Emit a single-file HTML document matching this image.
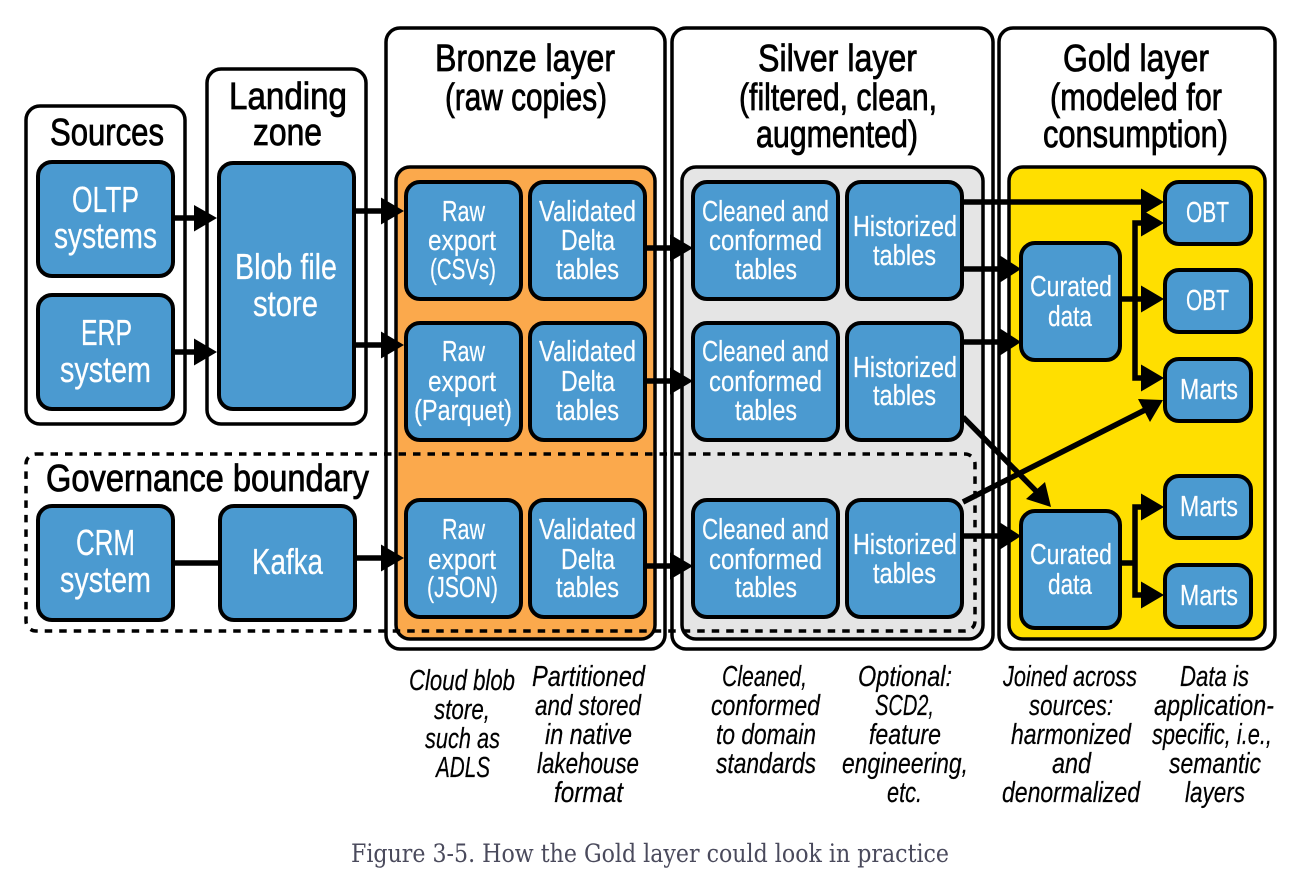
<!DOCTYPE html>
<html><head><meta charset="utf-8"><style>
html,body{margin:0;padding:0;background:#fff;width:1298px;height:886px;overflow:hidden}
svg{display:block}
text{font-family:"Liberation Sans",sans-serif}
.o{fill:#fff;stroke:#000;stroke-width:3.5}
.b{fill:#4b9ad0;stroke:#000;stroke-width:4}
.i{stroke:#000;stroke-width:3.5}
.h{font-size:38px;fill:#000;stroke:#000;stroke-width:.8}
.m{font-size:36px;fill:#fff;stroke:#fff;stroke-width:.25}
.s{font-size:29px;fill:#fff;stroke:#fff;stroke-width:.2}
.n{font-size:29px;fill:#000;font-style:italic;stroke:#000;stroke-width:.2}
.l{stroke:#000;stroke-width:5.5;fill:none}
</style></head><body>
<svg width="1298" height="886" viewBox="0 0 1298 886" xmlns="http://www.w3.org/2000/svg">
<rect class="o" x="26" y="106" width="159" height="318" rx="14"/>
<rect class="o" x="207" y="69" width="159" height="355" rx="14"/>
<rect class="o" x="386" y="28" width="279" height="621" rx="14"/>
<rect class="o" x="672" y="28" width="321" height="621" rx="14"/>
<rect class="o" x="999" y="28" width="276" height="621" rx="14"/>
<rect class="i" fill="#fba94c" x="396" y="167" width="259" height="472" rx="14"/>
<rect class="i" fill="#e5e5e5" x="682" y="167" width="301" height="472" rx="14"/>
<rect class="i" fill="#ffdf00" x="1009" y="167" width="256" height="472" rx="14"/>
<rect x="26" y="454" width="949" height="177" rx="10" fill="none" stroke="#000" stroke-width="3.5" stroke-dasharray="7.5 7"/>

<path class="l" d="M173 218H198M173 352H198M354 211H383M354 345H383M355 558H383M173 563H220M645 248H672M645 381H672M645 566H672M962 202H1143M962 269H1002M962 342H1002M962 536H1002M1120 299H1143M1143 223H1135V378H1143M1120 563H1135M1143 507H1135V595H1143M963 417L1036 491M963 502L1145 410"/>
<g fill="#000">
<path d="M194 205L217 218L194 231.5ZM194 338.500L217 352L194 365.500ZM381 197.500L404 211L381 224.500ZM381 331.500L404 345L381 358.500ZM381 544.500L404 558L381 571.500ZM670 234.500L693 248L670 261.500ZM670 367.500L693 381L670 394.500ZM670 552.500L693 566L670 579.500Z"/>
<path d="M1141 188.500L1164 202L1141 215.500ZM1141 209.500L1164 223L1141 236.500ZM1141 285.500L1164 299L1141 312.500ZM1141 364.500L1164 378L1141 391.500ZM1141 493.500L1164 507L1141 520.500ZM1141 581.500L1164 595L1141 608.500Z"/>
<path d="M1000 255.500L1021 269L1000 282.500ZM1000 328.500L1021 342L1000 355.500ZM1000 522.500L1021 536L1000 549.500Z"/>
<path d="M1051 507L1045 482L1026 499ZM1163 400L1138 399L1150 422Z"/>
</g>

<rect class="b" x="38" y="162" width="135" height="114" rx="14"/>
<rect class="b" x="38" y="295" width="135" height="114" rx="14"/>
<rect class="b" x="219" y="163" width="135" height="246" rx="14"/>
<rect class="b" x="38" y="506" width="135" height="114" rx="14"/>
<rect class="b" x="220" y="506" width="135" height="114" rx="14"/>
<rect class="b" x="406" y="182" width="115" height="117" rx="14"/>
<rect class="b" x="530" y="182" width="115" height="117" rx="14"/>
<rect class="b" x="406" y="323" width="115" height="117" rx="14"/>
<rect class="b" x="530" y="323" width="115" height="117" rx="14"/>
<rect class="b" x="406" y="500" width="115" height="117" rx="14"/>
<rect class="b" x="530" y="500" width="115" height="117" rx="14"/>
<rect class="b" x="693" y="182" width="145" height="117" rx="14"/>
<rect class="b" x="847" y="182" width="115" height="117" rx="14"/>
<rect class="b" x="693" y="323" width="145" height="117" rx="14"/>
<rect class="b" x="847" y="323" width="115" height="117" rx="14"/>
<rect class="b" x="693" y="500" width="145" height="117" rx="14"/>
<rect class="b" x="847" y="500" width="115" height="117" rx="14"/>
<rect class="b" x="1021" y="243" width="99" height="117" rx="14"/>
<rect class="b" x="1021" y="511" width="99" height="117" rx="14"/>
<rect class="b" x="1165" y="182" width="86" height="62" rx="14"/>
<rect class="b" x="1165" y="270" width="86" height="62" rx="14"/>
<rect class="b" x="1165" y="359" width="86" height="62" rx="14"/>
<rect class="b" x="1165" y="476" width="86" height="62" rx="14"/>
<rect class="b" x="1165" y="565" width="86" height="62" rx="14"/>

<text class="h" x="50" y="145" textLength="114" lengthAdjust="spacingAndGlyphs">Sources</text>
<text class="h" x="229" y="109" textLength="118" lengthAdjust="spacingAndGlyphs">Landing</text>
<text class="h" x="253" y="145" textLength="69" lengthAdjust="spacingAndGlyphs">zone</text>
<text class="h" x="435" y="71" textLength="180" lengthAdjust="spacingAndGlyphs">Bronze layer</text>
<text class="h" x="445" y="110" textLength="162" lengthAdjust="spacingAndGlyphs">(raw copies)</text>
<text class="h" x="758" y="71" textLength="159" lengthAdjust="spacingAndGlyphs">Silver layer</text>
<text class="h" x="739" y="110" textLength="198" lengthAdjust="spacingAndGlyphs">(filtered, clean,</text>
<text class="h" x="756" y="147" textLength="162" lengthAdjust="spacingAndGlyphs">augmented)</text>
<text class="h" x="1063" y="71" textLength="146" lengthAdjust="spacingAndGlyphs">Gold layer</text>
<text class="h" x="1050" y="110" textLength="172" lengthAdjust="spacingAndGlyphs">(modeled for</text>
<text class="h" x="1043" y="147" textLength="185" lengthAdjust="spacingAndGlyphs">consumption)</text>
<text class="h" x="46" y="491" textLength="323" lengthAdjust="spacingAndGlyphs">Governance boundary</text>

<text class="m" x="72" y="212" textLength="67" lengthAdjust="spacingAndGlyphs">OLTP</text>
<text class="m" x="54" y="248" textLength="103" lengthAdjust="spacingAndGlyphs">systems</text>
<text class="m" x="81" y="345" textLength="51" lengthAdjust="spacingAndGlyphs">ERP</text>
<text class="m" x="60" y="382" textLength="91" lengthAdjust="spacingAndGlyphs">system</text>
<text class="m" x="235" y="279" textLength="102" lengthAdjust="spacingAndGlyphs">Blob file</text>
<text class="m" x="253" y="316" textLength="65" lengthAdjust="spacingAndGlyphs">store</text>
<text class="m" x="76" y="555" textLength="59" lengthAdjust="spacingAndGlyphs">CRM</text>
<text class="m" x="60" y="592" textLength="91" lengthAdjust="spacingAndGlyphs">system</text>
<text class="m" x="252" y="574" textLength="71" lengthAdjust="spacingAndGlyphs">Kafka</text>

<text class="s" x="442" y="221" textLength="43" lengthAdjust="spacingAndGlyphs">Raw</text>
<text class="s" x="428" y="250" textLength="68" lengthAdjust="spacingAndGlyphs">export</text>
<text class="s" x="430" y="279" textLength="66" lengthAdjust="spacingAndGlyphs">(CSVs)</text>
<text class="s" x="442" y="361" textLength="43" lengthAdjust="spacingAndGlyphs">Raw</text>
<text class="s" x="428" y="391" textLength="68" lengthAdjust="spacingAndGlyphs">export</text>
<text class="s" x="414" y="420" textLength="98" lengthAdjust="spacingAndGlyphs">(Parquet)</text>
<text class="s" x="442" y="539" textLength="43" lengthAdjust="spacingAndGlyphs">Raw</text>
<text class="s" x="428" y="569" textLength="68" lengthAdjust="spacingAndGlyphs">export</text>
<text class="s" x="427" y="597" textLength="71" lengthAdjust="spacingAndGlyphs">(JSON)</text>

<text class="s" x="539" y="221" textLength="97" lengthAdjust="spacingAndGlyphs">Validated</text>
<text class="s" x="561" y="250" textLength="54" lengthAdjust="spacingAndGlyphs">Delta</text>
<text class="s" x="556" y="279" textLength="63" lengthAdjust="spacingAndGlyphs">tables</text>
<text class="s" x="539" y="361" textLength="97" lengthAdjust="spacingAndGlyphs">Validated</text>
<text class="s" x="561" y="391" textLength="54" lengthAdjust="spacingAndGlyphs">Delta</text>
<text class="s" x="556" y="420" textLength="63" lengthAdjust="spacingAndGlyphs">tables</text>
<text class="s" x="539" y="539" textLength="97" lengthAdjust="spacingAndGlyphs">Validated</text>
<text class="s" x="561" y="569" textLength="54" lengthAdjust="spacingAndGlyphs">Delta</text>
<text class="s" x="556" y="597" textLength="63" lengthAdjust="spacingAndGlyphs">tables</text>

<text class="s" x="702" y="221" textLength="127" lengthAdjust="spacingAndGlyphs">Cleaned and</text>
<text class="s" x="709" y="250" textLength="113" lengthAdjust="spacingAndGlyphs">conformed</text>
<text class="s" x="735" y="279" textLength="62" lengthAdjust="spacingAndGlyphs">tables</text>
<text class="s" x="702" y="361" textLength="127" lengthAdjust="spacingAndGlyphs">Cleaned and</text>
<text class="s" x="709" y="391" textLength="113" lengthAdjust="spacingAndGlyphs">conformed</text>
<text class="s" x="735" y="420" textLength="62" lengthAdjust="spacingAndGlyphs">tables</text>
<text class="s" x="702" y="539" textLength="127" lengthAdjust="spacingAndGlyphs">Cleaned and</text>
<text class="s" x="709" y="569" textLength="113" lengthAdjust="spacingAndGlyphs">conformed</text>
<text class="s" x="735" y="597" textLength="62" lengthAdjust="spacingAndGlyphs">tables</text>

<text class="s" x="853" y="236" textLength="104" lengthAdjust="spacingAndGlyphs">Historized</text>
<text class="s" x="873" y="265" textLength="63" lengthAdjust="spacingAndGlyphs">tables</text>
<text class="s" x="853" y="377" textLength="104" lengthAdjust="spacingAndGlyphs">Historized</text>
<text class="s" x="873" y="405" textLength="63" lengthAdjust="spacingAndGlyphs">tables</text>
<text class="s" x="853" y="554" textLength="104" lengthAdjust="spacingAndGlyphs">Historized</text>
<text class="s" x="873" y="583" textLength="63" lengthAdjust="spacingAndGlyphs">tables</text>

<text class="s" x="1030" y="296" textLength="82" lengthAdjust="spacingAndGlyphs">Curated</text>
<text class="s" x="1048" y="326" textLength="44" lengthAdjust="spacingAndGlyphs">data</text>
<text class="s" x="1030" y="564" textLength="82" lengthAdjust="spacingAndGlyphs">Curated</text>
<text class="s" x="1048" y="594" textLength="44" lengthAdjust="spacingAndGlyphs">data</text>

<text class="s" x="1186" y="222" textLength="43" lengthAdjust="spacingAndGlyphs">OBT</text>
<text class="s" x="1186" y="310" textLength="43" lengthAdjust="spacingAndGlyphs">OBT</text>
<text class="s" x="1180" y="399" textLength="58" lengthAdjust="spacingAndGlyphs">Marts</text>
<text class="s" x="1180" y="516" textLength="58" lengthAdjust="spacingAndGlyphs">Marts</text>
<text class="s" x="1180" y="605" textLength="58" lengthAdjust="spacingAndGlyphs">Marts</text>

<text class="n" x="409" y="690" textLength="106" lengthAdjust="spacingAndGlyphs">Cloud blob</text>
<text class="n" x="434" y="719" textLength="56" lengthAdjust="spacingAndGlyphs">store,</text>
<text class="n" x="425" y="748" textLength="75" lengthAdjust="spacingAndGlyphs">such as</text>
<text class="n" x="436" y="777" textLength="54" lengthAdjust="spacingAndGlyphs">ADLS</text>

<text class="n" x="532" y="686" textLength="113" lengthAdjust="spacingAndGlyphs">Partitioned</text>
<text class="n" x="535" y="715" textLength="106" lengthAdjust="spacingAndGlyphs">and stored</text>
<text class="n" x="545" y="744" textLength="87" lengthAdjust="spacingAndGlyphs">in native</text>
<text class="n" x="537" y="773" textLength="102" lengthAdjust="spacingAndGlyphs">lakehouse</text>
<text class="n" x="554" y="802" textLength="69" lengthAdjust="spacingAndGlyphs">format</text>

<text class="n" x="722" y="686" textLength="85" lengthAdjust="spacingAndGlyphs">Cleaned,</text>
<text class="n" x="711" y="715" textLength="109" lengthAdjust="spacingAndGlyphs">conformed</text>
<text class="n" x="716" y="744" textLength="100" lengthAdjust="spacingAndGlyphs">to domain</text>
<text class="n" x="716" y="773" textLength="100" lengthAdjust="spacingAndGlyphs">standards</text>

<text class="n" x="858" y="686" textLength="94" lengthAdjust="spacingAndGlyphs">Optional:</text>
<text class="n" x="875" y="715" textLength="59" lengthAdjust="spacingAndGlyphs">SCD2,</text>
<text class="n" x="869" y="744" textLength="72" lengthAdjust="spacingAndGlyphs">feature</text>
<text class="n" x="842" y="773" textLength="126" lengthAdjust="spacingAndGlyphs">engineering,</text>
<text class="n" x="887" y="802" textLength="35" lengthAdjust="spacingAndGlyphs">etc.</text>

<text class="n" x="1003" y="686" textLength="134" lengthAdjust="spacingAndGlyphs">Joined across</text>
<text class="n" x="1029" y="715" textLength="84" lengthAdjust="spacingAndGlyphs">sources:</text>
<text class="n" x="1011" y="744" textLength="120" lengthAdjust="spacingAndGlyphs">harmonized</text>
<text class="n" x="1052" y="773" textLength="39" lengthAdjust="spacingAndGlyphs">and</text>
<text class="n" x="1002" y="802" textLength="138" lengthAdjust="spacingAndGlyphs">denormalized</text>

<text class="n" x="1180" y="686" textLength="69" lengthAdjust="spacingAndGlyphs">Data is</text>
<text class="n" x="1154" y="715" textLength="120" lengthAdjust="spacingAndGlyphs">application-</text>
<text class="n" x="1152" y="744" textLength="120" lengthAdjust="spacingAndGlyphs">specific, i.e.,</text>
<text class="n" x="1169" y="773" textLength="92" lengthAdjust="spacingAndGlyphs">semantic</text>
<text class="n" x="1185" y="802" textLength="60" lengthAdjust="spacingAndGlyphs">layers</text>

<text x="351" y="862" textLength="598" lengthAdjust="spacingAndGlyphs" style="font-family:'DejaVu Serif','Liberation Serif',serif;font-size:25px;fill:#4a4a5c">Figure 3-5. How the Gold layer could look in practice</text>
</svg>
</body></html>
